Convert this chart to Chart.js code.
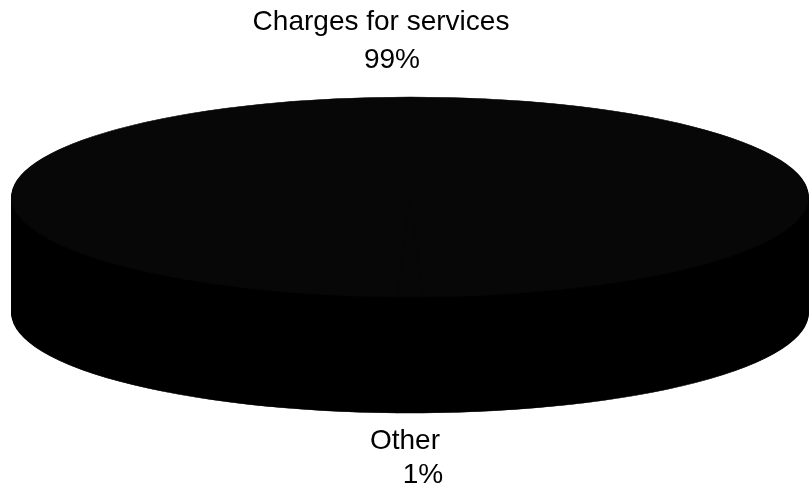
<!DOCTYPE html>
<html lang="en">
  <head>
    <meta charset="UTF-8" />
    <script src="https://cdn.jsdelivr.net/npm/chart.js@4.4.0/dist/chart.umd.min.js"></script>
    <title>Revenue sources</title>
    <style>
      body {
        margin: 0;
        padding: 0;
        background: #fff;
      }

      .container {
        width: 809px;
        height: 499px;
      }
    </style>
  </head>
  <body>
    <div class="container">
      <canvas id="pie"></canvas>
    </div>
    <script>
      const categories = ['Charges for services', 'Other']
      const shares = [99, 1]
      const shareLabels = ['99%', '1%']

      // geometry of the tilted disc
      const CX = 410
      const CY = 197
      const RX = 398
      const RY = 100
      const DEPTH = 116
      const TOP = '#070707'
      const SIDE = '#000000'
      // [line 1, line 2] horizontal nudges and vertical offsets from the rim
      const LABEL_DX = [[-29, -18], [-5, 13]]
      const LABEL_DY_ABOVE = [-75, -37]
      const LABEL_DY_BELOW = [28, 62]

      const project = (ctx, arc, dy) => {
        const r = arc.outerRadius
        ctx.translate(CX, CY + dy)
        ctx.scale(RX / r, RY / r)
        ctx.translate(-arc.x, -arc.y)
      }

      const tilt = {
        id: 'tilt',
        beforeDatasetsDraw(chart) {
          const ctx = chart.ctx
          const arcs = chart.getDatasetMeta(0).data
          // stack copies of the slices downwards to build the side wall
          for (let d = DEPTH; d > 0; d--) {
            ctx.save()
            project(ctx, arcs[0], d)
            arcs.forEach((a) => {
              const o = a.options
              a.options = Object.assign({}, o, {
                backgroundColor: SIDE,
                borderColor: SIDE,
              })
              a.draw(ctx)
              a.options = o
            })
            ctx.restore()
          }
          ctx.save()
          project(ctx, arcs[0], 0)
        },
        afterDatasetsDraw(chart) {
          const ctx = chart.ctx
          ctx.restore()
          const arcs = chart.getDatasetMeta(0).data
          ctx.save()
          ctx.font = '28px "Liberation Sans", Arial, sans-serif'
          ctx.fillStyle = '#000'
          ctx.textAlign = 'center'
          ctx.textBaseline = 'middle'
          arcs.forEach((a, i) => {
            const mid = (a.startAngle + a.endAngle) / 2
            const s = Math.sin(mid)
            const px = CX + RX * Math.cos(mid)
            const py = CY + RY * s + (s > 0 ? DEPTH : 0)
            const dy = s > 0 ? LABEL_DY_BELOW : LABEL_DY_ABOVE
            const lines = [categories[i], shareLabels[i]]
            lines.forEach((t, k) => {
              ctx.fillText(t, px + LABEL_DX[i][k], py + dy[k])
            })
          })
          ctx.restore()
        },
      }

      new Chart(document.getElementById('pie'), {
        type: 'pie',
        data: {
          labels: categories,
          datasets: [
            {
              data: shares,
              backgroundColor: [TOP, TOP],
              borderColor: [TOP, TOP],
              borderWidth: 1,
            },
          ],
        },
        options: {
          responsive: true,
          maintainAspectRatio: false,
          animation: false,
          // the small slice faces the viewer
          rotation: 181.8,
          layout: { padding: 0 },
          plugins: {
            legend: { display: false },
            tooltip: { enabled: false },
          },
        },
        plugins: [tilt],
      })
    </script>
  </body>
</html>
